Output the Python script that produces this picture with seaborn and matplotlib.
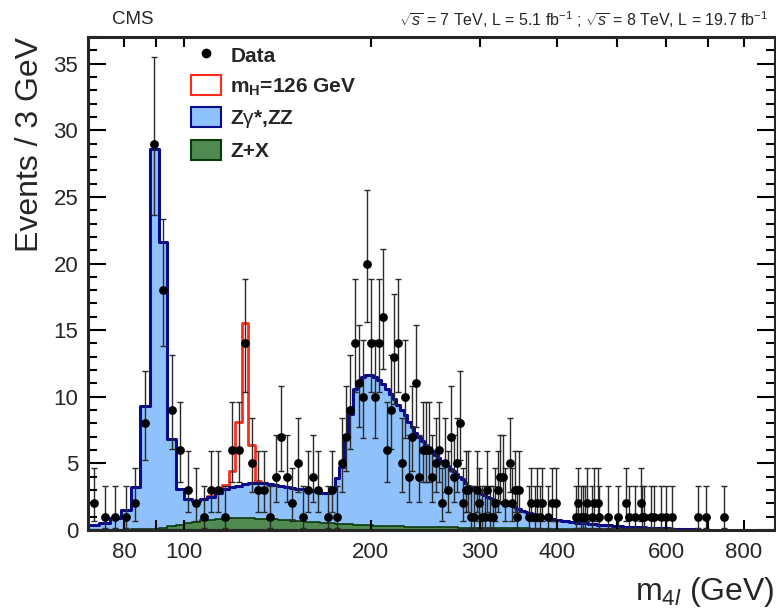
import matplotlib
matplotlib.use("Agg")
import matplotlib.pyplot as plt
import pandas as pd
import seaborn as sns
from matplotlib import font_manager
from matplotlib.lines import Line2D
from matplotlib.patches import Patch
from matplotlib.ticker import FixedLocator, FixedFormatter, NullLocator, MultipleLocator

sns.set_style("ticks")
plt.rcParams["font.family"] = ["Liberation Sans", "DejaVu Sans"]
plt.rcParams["mathtext.fontset"] = "custom"
plt.rcParams["mathtext.rm"] = "Liberation Sans"
plt.rcParams["mathtext.it"] = "Liberation Sans:italic"
plt.rcParams["mathtext.bf"] = "Liberation Sans:bold"

# 3 GeV bins starting at 70 GeV
BIN_START = 70
BIN_WIDTH = 3

# Z+X reducible background, one value per bin from 70 GeV
zx = [
    0.02, 0.02, 0.02, 0.03, 0.04, 0.05, 0.10, 0.18, 0.30, 0.40,
    0.50, 0.62, 0.72, 0.78, 0.82, 0.86, 0.88, 0.88, 0.88, 0.87,
    0.86, 0.84, 0.82, 0.80, 0.78, 0.75, 0.72, 0.69, 0.66, 0.63,
    0.61, 0.58, 0.55, 0.53, 0.50, 0.48, 0.46, 0.44, 0.42, 0.40,
    0.38, 0.36, 0.35, 0.34, 0.33, 0.32, 0.31, 0.30, 0.29, 0.28,
    0.27, 0.27, 0.26, 0.25, 0.25, 0.24, 0.24, 0.23, 0.23, 0.22,
    0.22, 0.21, 0.21, 0.20, 0.20, 0.20, 0.19, 0.19, 0.19, 0.18,
    0.18, 0.18, 0.17, 0.17, 0.17, 0.16, 0.16, 0.16, 0.15, 0.15,
    0.15, 0.15, 0.14, 0.14, 0.14, 0.14, 0.13, 0.13, 0.13, 0.13,
    0.13, 0.12, 0.12, 0.12, 0.12, 0.12, 0.12, 0.11, 0.11, 0.11,
    0.11, 0.11, 0.10, 0.10, 0.10, 0.10, 0.10, 0.10, 0.09, 0.09,
    0.09, 0.09, 0.09, 0.09, 0.08, 0.08, 0.08, 0.08, 0.08, 0.08,
    0.08, 0.07, 0.07, 0.07, 0.07, 0.07, 0.07, 0.07, 0.07, 0.07,
    0.07, 0.06, 0.06, 0.06, 0.06, 0.06, 0.06, 0.06, 0.06, 0.06,
    0.06, 0.06, 0.06, 0.06, 0.06, 0.06, 0.05, 0.05, 0.05, 0.05,
    0.05, 0.05, 0.05, 0.05, 0.05, 0.05, 0.05, 0.05, 0.05, 0.05,
    0.05, 0.04, 0.04, 0.04, 0.04, 0.04, 0.04, 0.04, 0.04, 0.04,
    0.04,
]

# ZZ + Z+X stacked (top of the blue histogram), one value per bin from 70 GeV
zz_top = [
    0.38, 0.55, 0.90, 1.50, 3.20, 9.30, 28.6, 21.6, 6.80, 3.10,
    2.30, 2.20, 2.30, 2.45, 2.75, 3.05, 3.20, 3.30, 3.45, 3.50,
    3.55, 3.50, 3.45, 3.40, 3.30, 3.20, 3.15, 3.10, 3.05, 3.00,
    2.95, 2.90, 2.80, 2.75, 3.10, 3.90, 4.70, 6.90, 8.70, 10.6,
    11.1, 11.5, 11.6, 11.6, 11.5, 11.25, 10.95, 10.6, 10.2, 9.80,
    9.40, 9.00, 8.60, 8.10, 7.70, 7.30, 6.95, 6.65, 6.40, 6.15,
    5.90, 5.65, 5.40, 5.20, 5.00, 4.80, 4.60, 4.40, 4.20, 4.00,
    3.80, 3.50, 3.30, 3.15, 3.05, 3.00, 2.80, 2.70, 2.60, 2.50,
    2.40, 2.30, 2.25, 2.20, 2.10, 2.00, 1.95, 1.90, 1.85, 1.80,
    1.70, 1.60, 1.55, 1.45, 1.40, 1.35, 1.30, 1.25, 1.20, 1.15,
    1.10, 1.05, 1.00, 0.95, 0.92, 0.88, 0.85, 0.82, 0.80, 0.77,
    0.75, 0.72, 0.70, 0.68, 0.66, 0.64, 0.62, 0.60, 0.58, 0.56,
    0.55, 0.54, 0.53, 0.52, 0.51, 0.50, 0.48, 0.47, 0.45, 0.44,
    0.42, 0.41, 0.40, 0.39, 0.38, 0.37, 0.36, 0.35, 0.34, 0.34,
    0.33, 0.32, 0.31, 0.30, 0.29, 0.28, 0.27, 0.26, 0.26, 0.25,
    0.25, 0.24, 0.23, 0.23, 0.22, 0.22, 0.21, 0.21, 0.20, 0.20,
    0.19, 0.19, 0.18, 0.18, 0.17, 0.17, 0.16, 0.16, 0.15, 0.15,
    0.15, 0.14, 0.14, 0.13, 0.13, 0.13, 0.12, 0.12, 0.12, 0.11,
    0.11, 0.11, 0.10, 0.10, 0.10, 0.09, 0.09, 0.09, 0.09, 0.08,
    0.08, 0.08, 0.08, 0.07, 0.07, 0.07, 0.07, 0.06, 0.06, 0.06,
    0.06,
]

# mH = 126 GeV signal stacked on top, bins 106-136 GeV
higgs_lo_edge = 106
higgs_top = [2.30, 2.56, 3.06, 3.38, 4.40, 8.10, 15.5, 6.40, 3.70, 3.50]

# observed events (bin centre, count)
data_mass = [
    71.5, 74.5, 77.5, 80.5, 83.5, 86.5, 89.5, 92.5, 95.5, 98.5,
    101.5, 104.5, 107.5, 110.5, 113.5, 116.5, 119.5, 122.5, 125.5, 128.5,
    131.5, 134.5, 137.5, 140.5, 143.5, 146.5, 149.5, 152.5, 155.5, 158.5,
    161.5, 164.5, 170.5, 173.5, 176.5, 179.5, 182.5, 185.5, 188.5, 191.5,
    194.5, 197.5, 200.5, 203.5, 206.5, 209.5, 212.5, 215.5, 218.5, 221.5,
    224.5, 227.5, 230.5, 233.5, 236.5, 239.5, 242.5, 245.5, 248.5, 251.5,
    254.5, 257.5, 260.5, 263.5, 266.5, 269.5, 272.5, 275.5, 278.5, 281.5,
    284.5, 287.5, 290.5, 293.5, 296.5, 299.5, 302.5, 305.5, 308.5, 311.5,
    314.5, 317.5, 320.5, 323.5, 326.5, 329.5, 335.5, 338.5, 341.5, 344.5,
    347.5, 359.5, 362.5, 368.5, 371.5, 374.5, 377.5, 386.5, 392.5, 398.5,
    428.5, 431.5, 437.5, 440.5, 443.5, 446.5, 455.5, 458.5, 464.5, 467.5,
    482.5, 500.5, 515.5, 521.5, 533.5, 545.5, 548.5, 551.5, 566.5, 572.5,
    587.5, 599.5, 611.5, 673.5, 694.5, 743.5,
]
data_count = [
    2, 1, 1, 1, 2, 8, 29, 18, 9, 6,
    3, 2, 1, 3, 3, 1, 6, 6, 14, 5,
    3, 3, 1, 4, 7, 4, 2, 5, 1, 3,
    4, 3, 1, 3, 1, 5, 7, 9, 14, 11,
    10, 20, 14, 10, 14, 16, 6, 9, 13, 14,
    5, 10, 4, 7, 11, 4, 6, 6, 6, 4,
    5, 6, 2, 5, 3, 7, 4, 5, 8, 2,
    3, 3, 1, 1, 3, 2, 1, 1, 3, 1,
    1, 2, 3, 4, 4, 2, 5, 2, 3, 1,
    3, 1, 2, 1, 2, 1, 2, 1, 2, 2,
    1, 2, 1, 1, 1, 2, 1, 2, 2, 1,
    1, 1, 2, 1, 1, 2, 1, 1, 1, 1,
    1, 1, 1, 1, 1, 1,
]

# 68% Poisson intervals (down, up) per observed count
poisson_err = {
    1: (0.83, 2.30), 2: (1.29, 2.64), 3: (1.63, 2.92), 4: (1.91, 3.16),
    5: (2.16, 3.38), 6: (2.38, 3.58), 7: (2.58, 3.77), 8: (2.77, 3.95),
    9: (2.94, 4.11), 10: (3.11, 4.27), 11: (3.26, 4.42), 13: (3.55, 4.70),
    14: (3.68, 4.83), 16: (3.93, 5.08), 18: (4.17, 5.32), 20: (4.39, 5.53),
    29: (5.36, 6.48),
}

RED = "#ff2a1a"
BLUE_FILL = "#8fc1fb"
BLUE_LINE = "#0a0a8c"
GREEN_FILL = "#508a50"
GREEN_LINE = "#0c3a0c"


def hist_frame(values, lo_edge):
    edges = [lo_edge + BIN_WIDTH * i for i in range(len(values) + 1)]
    df = pd.DataFrame({"mass": [e + BIN_WIDTH / 2 for e in edges[:-1]],
                       "events": values})
    return df, edges


def has_font(name):
    try:
        font_manager.findfont(name, fallback_to_default=False)
        return True
    except ValueError:
        return False


fig = plt.figure(figsize=(7.76, 6.16), dpi=100)
ax = fig.add_axes([88 / 776, 1 - 530 / 616, 687 / 776, 493 / 616])

hdf, he = hist_frame(higgs_top, higgs_lo_edge)
sns.histplot(data=hdf, x="mass", weights="events", bins=he, element="step",
             fill=False, color=RED, linewidth=2.0, ax=ax, zorder=1)

zdf, ze = hist_frame(zz_top, BIN_START)
sns.histplot(data=zdf, x="mass", weights="events", bins=ze, element="step",
             fill=True, facecolor=BLUE_FILL, edgecolor=BLUE_LINE, linewidth=2.2,
             alpha=1, ax=ax, zorder=2)

xdf, xe = hist_frame(zx, BIN_START)
sns.histplot(data=xdf, x="mass", weights="events", bins=xe, element="step",
             fill=True, facecolor=GREEN_FILL, edgecolor=GREEN_LINE, linewidth=1.2,
             alpha=1, ax=ax, zorder=3)

err_lo = [poisson_err[c][0] for c in data_count]
err_hi = [poisson_err[c][1] for c in data_count]
ax.errorbar(data_mass, data_count, yerr=[err_lo, err_hi], fmt="none",
            ecolor="#2a2a2a", elinewidth=1.0, capsize=2, capthick=1.0, zorder=4)
sns.scatterplot(x=data_mass, y=data_count, color="black", s=40, linewidth=0,
                ax=ax, zorder=5)

ax.set_xscale("log")
ax.set_xlim(70, 898)
ax.set_ylim(0, 37)

ax.xaxis.set_major_locator(FixedLocator([80, 90, 100, 200, 300, 400, 500, 600, 700, 800]))
ax.xaxis.set_major_formatter(FixedFormatter(["80", "", "100", "200", "300", "400", "", "600", "", "800"]))
ax.xaxis.set_minor_locator(NullLocator())
ax.yaxis.set_major_locator(MultipleLocator(5))
ax.yaxis.set_minor_locator(MultipleLocator(1))

ax.tick_params(which="both", direction="in", bottom=True, left=True, top=True,
               right=True, width=1.5, labelsize=16, color="black")
ax.tick_params(axis="x", which="major", length=7, pad=9)
ax.tick_params(axis="y", which="major", length=13, pad=7)
ax.tick_params(axis="y", which="minor", length=6.5)
ax.xaxis.set_zorder(6)
ax.yaxis.set_zorder(6)
for sp in ax.spines.values():
    sp.set_linewidth(2.2)
    sp.set_zorder(10)

ax.set_xlabel(r"m$_{4\mathit{l}}$ (GeV)", fontsize=23, loc="right", labelpad=8)
ax.set_ylabel("Events / 3 GeV", fontsize=23, loc="top", labelpad=6)

handles = [
    Line2D([], [], marker="o", color="black", linestyle="none", markersize=6),
    Patch(facecolor="white", edgecolor=RED, linewidth=1.5),
    Patch(facecolor=BLUE_FILL, edgecolor=BLUE_LINE, linewidth=1.5),
    Patch(facecolor=GREEN_FILL, edgecolor=GREEN_LINE, linewidth=1.5),
]
labels = ["Data", r"m$_\mathbf{H}$=126 GeV", r"Z$\mathrm{\gamma}$*,ZZ", "Z+X"]
ax.legend(handles, labels, loc="upper left", bbox_to_anchor=(0.122, 1.022),
          frameon=False, prop={"weight": "bold", "size": 15},
          handlelength=1.45, handleheight=1.1, labelspacing=0.45, handletextpad=0.45)

fig.text(133 / 776, 1 - 20 / 616, "CMS", fontsize=13.5, ha="center", va="center")
lumi = r"$\sqrt{s}$ = 7 TeV, L = 5.1 fb$^{-1}$ ; $\sqrt{s}$ = 8 TeV, L = 19.7 fb$^{-1}$"
if has_font("Liberation Sans Narrow"):
    fig.text(768 / 776, 1 - 20 / 616, lumi, fontsize=14,
             family=["Liberation Sans Narrow", "Liberation Sans"], ha="right", va="center")
else:
    fig.text(768 / 776, 1 - 20 / 616, lumi, fontsize=11.5, ha="right", va="center")

fig.savefig("out.png", dpi=100)
